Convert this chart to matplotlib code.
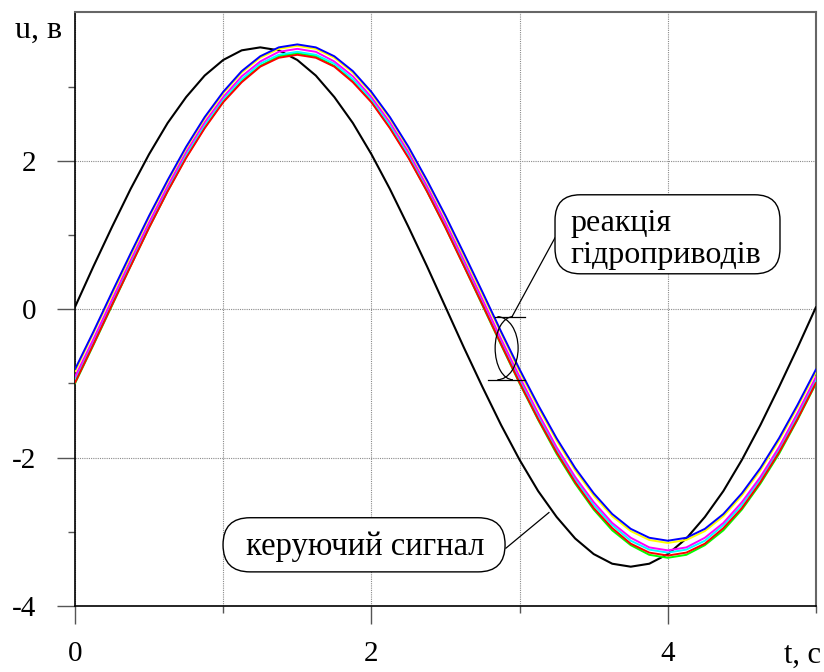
import matplotlib
matplotlib.use("Agg")
import matplotlib.pyplot as plt
from matplotlib.patches import FancyBboxPatch, Arc
from matplotlib.ticker import FixedLocator, FixedFormatter

plt.rcParams['font.family'] = ['Liberation Serif', 'DejaVu Serif']
plt.rcParams['axes.unicode_minus'] = False

# time axis, s
t = [i * 0.125 for i in range(41)]

# control signal (black)
u_control = [0.03, 0.58, 1.11, 1.62, 2.09, 2.51, 2.86, 3.15, 3.36, 3.49, 3.53,
             3.49, 3.36, 3.15, 2.86, 2.51, 2.09, 1.62, 1.11, 0.58, 0.03,
             -0.52, -1.05, -1.56, -2.03, -2.45, -2.80, -3.09, -3.30, -3.43, -3.47,
             -3.43, -3.30, -3.09, -2.80, -2.45, -2.03, -1.56, -1.05, -0.52, 0.03]

# responses of the hydraulic drives
u_blue = [-0.81, -0.30, 0.23, 0.75, 1.26, 1.74, 2.19, 2.59, 2.93, 3.21, 3.41, 3.53, 3.57,
          3.53, 3.41, 3.21, 2.93, 2.59, 2.19, 1.74, 1.26, 0.75, 0.23, -0.30, -0.81,
          -1.29, -1.74, -2.14, -2.48, -2.76, -2.96, -3.08, -3.12, -3.08, -2.96, -2.76,
          -2.48, -2.14, -1.74, -1.29, -0.81]
u_yellow = [-0.84, -0.32, 0.20, 0.72, 1.24, 1.72, 2.17, 2.57, 2.91, 3.19, 3.39, 3.51, 3.55,
            3.51, 3.39, 3.19, 2.91, 2.57, 2.17, 1.72, 1.24, 0.72, 0.20, -0.32, -0.84,
            -1.32, -1.77, -2.17, -2.51, -2.79, -2.99, -3.11, -3.15, -3.11, -2.99, -2.79,
            -2.51, -2.17, -1.77, -1.32, -0.84]
u_magenta = [-0.91, -0.40, 0.13, 0.66, 1.17, 1.66, 2.12, 2.52, 2.86, 3.14, 3.34, 3.47, 3.51,
             3.47, 3.34, 3.14, 2.86, 2.52, 2.12, 1.66, 1.17, 0.66, 0.13, -0.40, -0.91,
             -1.40, -1.86, -2.26, -2.60, -2.88, -3.08, -3.21, -3.25, -3.21, -3.08, -2.88,
             -2.60, -2.26, -1.86, -1.40, -0.91]
u_cyan = [-0.95, -0.43, 0.10, 0.62, 1.14, 1.63, 2.08, 2.48, 2.83, 3.10, 3.31, 3.43, 3.47,
          3.43, 3.31, 3.10, 2.83, 2.48, 2.08, 1.63, 1.14, 0.62, 0.10, -0.43, -0.95,
          -1.44, -1.89, -2.29, -2.64, -2.91, -3.12, -3.24, -3.28, -3.24, -3.12, -2.91,
          -2.64, -2.29, -1.89, -1.44, -0.95]
u_green = [-1.00, -0.48, 0.05, 0.58, 1.10, 1.59, 2.05, 2.45, 2.80, 3.08, 3.28, 3.41, 3.45,
           3.41, 3.28, 3.08, 2.80, 2.45, 2.05, 1.59, 1.10, 0.58, 0.05, -0.48, -1.00,
           -1.49, -1.95, -2.35, -2.70, -2.98, -3.18, -3.31, -3.35, -3.31, -3.18, -2.98,
           -2.70, -2.35, -1.95, -1.49, -1.00]
u_red = [-0.99, -0.47, 0.06, 0.58, 1.10, 1.59, 2.04, 2.44, 2.79, 3.06, 3.27, 3.39, 3.43,
         3.39, 3.27, 3.06, 2.79, 2.44, 2.04, 1.59, 1.10, 0.58, 0.06, -0.47, -0.99,
         -1.48, -1.93, -2.33, -2.68, -2.95, -3.16, -3.28, -3.32, -3.28, -3.16, -2.95,
         -2.68, -2.33, -1.93, -1.48, -0.99]

x_major = [0, 2, 4]
x_minor = [1, 3, 5]
x_labels = ['0', '2', '4']
y_major = [-4, -2, 0, 2]
y_minor = [-3, -1, 1, 3]
y_labels = ['-4', '-2', '0', '2']

fig = plt.figure(figsize=(8.24, 6.72), dpi=100)
ax = fig.add_axes([0.0910, 0.0982, 0.8993, 0.8832])
ax.set_xlim(0, 5)
ax.set_ylim(-4, 4)

ax.xaxis.set_major_locator(FixedLocator(x_major))
ax.xaxis.set_minor_locator(FixedLocator(x_minor))
ax.xaxis.set_major_formatter(FixedFormatter(x_labels))
ax.yaxis.set_major_locator(FixedLocator(y_major))
ax.yaxis.set_minor_locator(FixedLocator(y_minor))
ax.yaxis.set_major_formatter(FixedFormatter(y_labels))

grid_kw = dict(color='#8a8a8a', linestyle=(0, (1, 1)), linewidth=0.8)
ax.xaxis.grid(True, which='both', **grid_kw)
ax.yaxis.grid(True, which='major', **grid_kw)
ax.set_axisbelow(True)

ax.tick_params(axis='both', which='major', direction='out', length=13, width=1.0,
               labelsize=21, color='#555555')
ax.tick_params(axis='both', which='minor', direction='out', length=5, width=1.0,
               color='#555555')
ax.tick_params(axis='y', which='major', pad=15)
ax.tick_params(axis='x', which='major', pad=12)

for side in ['left', 'bottom']:
    ax.spines[side].set_color('black')
    ax.spines[side].set_linewidth(1.2)
for side in ['top', 'right']:
    ax.spines[side].set_color('#666666')
    ax.spines[side].set_linewidth(1.5)

lw = 1.4
common = dict(zorder=3, solid_joinstyle='round', solid_capstyle='round')
ax.plot(t, u_control, color='black', linewidth=1.5, **common)
ax.plot(t, u_green, color='#00ff00', linewidth=lw, **common)
ax.plot(t, u_cyan, color='#00ffff', linewidth=lw, **common)
ax.plot(t, u_red, color='#ff0000', linewidth=lw, **common)
ax.plot(t, u_magenta, color='#ff00ff', linewidth=lw, **common)
ax.plot(t, u_yellow, color='#ffff00', linewidth=lw, **common)
ax.plot(t, u_blue, color='#0000ff', linewidth=lw, **common)

# annotation: reaction of hydraulic drives
box1 = FancyBboxPatch((3.239, 0.478), 4.757 - 3.239, 1.543 - 0.478,
                      boxstyle="round,pad=0,rounding_size=0.17", mutation_aspect=2.0,
                      facecolor='white', edgecolor='black', linewidth=1.0, zorder=5)
ax.add_patch(box1)
ax.text(3.34, 1.15, 'реакція', fontsize=23, ha='left', va='center', zorder=6)
ax.text(3.34, 0.72, 'гідроприводів', fontsize=23, ha='left', va='center', zorder=6)
ax.plot([2.949, 3.239], [-0.10, 0.964], color='black', linewidth=0.9, zorder=4)
ax.plot([2.834, 3.036], [-0.10, -0.10], color='black', linewidth=0.9, zorder=4)
ax.plot([2.787, 3.036], [-0.95, -0.95], color='black', linewidth=0.9, zorder=4)
ax.add_patch(Arc((2.955, -0.525), 0.24, 0.85, theta1=90, theta2=270,
                 color='black', linewidth=0.9, zorder=4))
ax.add_patch(Arc((2.85, -0.525), 0.28, 0.85, theta1=-90, theta2=90,
                 color='black', linewidth=0.9, zorder=4))

# annotation: control signal
box2 = FancyBboxPatch((0.999, -3.54), 2.902 - 0.999, 3.54 - 2.81,
                      boxstyle="round,pad=0,rounding_size=0.182", mutation_aspect=2.0,
                      facecolor='white', edgecolor='black', linewidth=1.0, zorder=5)
ax.add_patch(box2)
ax.text(1.96, -3.20, 'керуючий сигнал', fontsize=23.5, ha='center', va='center', zorder=6)
ax.plot([2.908, 3.198], [-3.22, -2.74], color='black', linewidth=0.9, zorder=4)

fig.text(15 / 824, 1 - 38 / 672, 'u, в', fontsize=23, ha='left', va='baseline')
fig.text(803 / 824, 1 - 655 / 672, 't, c', fontsize=22, ha='center', va='center')

fig.savefig('out.png', dpi=100)
